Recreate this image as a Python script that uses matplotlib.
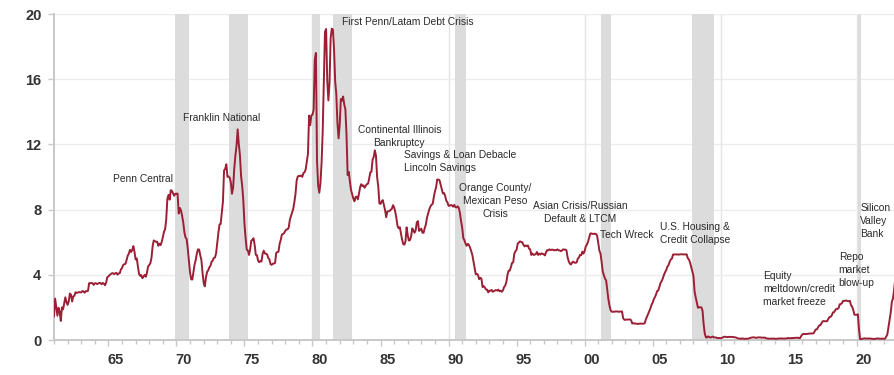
import numpy as np
import matplotlib
matplotlib.use("Agg")
import matplotlib.pyplot as plt
from matplotlib.transforms import ScaledTranslation

# Effective federal funds rate, monthly (%), starting Jan 1961
ff_1960s = [
    1.45, 2.54, 2.02, 1.49, 1.98, 1.73, 1.17, 2.00, 1.88, 2.26, 2.62, 2.33,
    2.15, 2.37, 2.85, 2.78, 2.36, 2.68, 2.71, 2.93, 2.90, 2.90, 2.94, 2.93,
    2.92, 3.00, 2.98, 2.90, 3.00, 2.99, 3.02, 3.49, 3.48, 3.50, 3.48, 3.38,
    3.48, 3.48, 3.43, 3.47, 3.50, 3.50, 3.42, 3.50, 3.45, 3.36, 3.52, 3.85,
    3.90, 3.98, 4.04, 4.09, 4.10, 4.04, 4.09, 4.12, 4.01, 4.08, 4.10, 4.32,
    4.42, 4.60, 4.65, 4.67, 4.90, 5.17, 5.30, 5.53, 5.40, 5.53, 5.76, 5.40,
    4.94, 5.00, 4.53, 4.05, 3.94, 3.98, 3.79, 3.90, 3.99, 3.88, 4.13, 4.51,
    4.60, 4.71, 5.05, 5.76, 6.11, 6.07, 6.02, 6.03, 5.78, 5.91, 5.82, 6.02,
    6.30, 6.64, 6.79, 7.41, 8.67, 8.90, 8.61, 9.19, 9.15, 9.00, 8.85, 8.97,
]
ff_1970s = [
    8.98, 8.98, 7.76, 8.10, 7.95, 7.61, 7.21, 6.61, 6.29, 6.20, 5.60, 4.90,
    4.14, 3.72, 3.71, 4.16, 4.63, 4.91, 5.31, 5.56, 5.55, 5.20, 4.91, 4.14,
    3.50, 3.29, 3.83, 4.17, 4.27, 4.46, 4.55, 4.80, 4.87, 5.04, 5.06, 5.33,
    5.94, 6.58, 7.09, 7.12, 7.84, 8.49, 10.40, 10.50, 10.78, 10.01, 10.03, 9.95,
    9.65, 8.97, 9.35, 10.51, 11.31, 11.93, 12.92, 12.01, 11.34, 10.06, 9.45, 8.53,
    7.13, 6.24, 5.54, 5.49, 5.22, 5.55, 6.10, 6.14, 6.24, 5.82, 5.22, 5.20,
    4.87, 4.77, 4.84, 4.82, 5.29, 5.48, 5.31, 5.29, 5.25, 5.03, 4.95, 4.65,
    4.61, 4.68, 4.69, 4.73, 5.35, 5.39, 5.42, 5.90, 6.14, 6.47, 6.51, 6.56,
    6.70, 6.78, 6.79, 6.89, 7.36, 7.60, 7.81, 8.04, 8.45, 8.96, 9.76, 10.03,
    10.07, 10.06, 10.09, 10.01, 10.24, 10.29, 10.47, 10.94, 11.43, 13.77, 13.18, 13.78,
]
ff_1980s = [
    13.82, 14.13, 17.19, 17.61, 10.98, 9.47, 9.03, 9.61, 10.87, 12.81, 15.85, 18.90,
    19.08, 15.93, 14.70, 15.72, 18.52, 19.10, 19.04, 17.82, 15.87, 15.08, 13.31, 12.37,
    13.22, 14.78, 14.68, 14.94, 14.45, 14.15, 12.59, 10.12, 10.31, 9.71, 9.20, 8.95,
    8.68, 8.51, 8.77, 8.80, 8.63, 8.98, 9.37, 9.56, 9.45, 9.48, 9.34, 9.47,
    9.56, 9.59, 9.91, 10.29, 10.32, 11.06, 11.23, 11.64, 11.30, 9.99, 9.43, 8.38,
    8.35, 8.50, 8.58, 8.27, 7.97, 7.53, 7.88, 7.90, 7.92, 7.99, 8.05, 8.27,
    8.14, 7.86, 7.48, 6.99, 6.85, 6.92, 6.56, 6.17, 5.89, 5.85, 6.04, 6.91,
    6.43, 6.10, 6.13, 6.37, 6.85, 6.73, 6.58, 6.73, 7.22, 7.29, 6.69, 6.77,
    6.83, 6.58, 6.58, 6.87, 7.09, 7.51, 7.75, 8.01, 8.19, 8.30, 8.35, 8.76,
    9.12, 9.36, 9.85, 9.84, 9.81, 9.53, 9.24, 8.99, 9.02, 8.84, 8.55, 8.45,
]
ff_1990s = [
    8.23, 8.24, 8.28, 8.26, 8.18, 8.29, 8.15, 8.13, 8.20, 8.11, 7.81, 7.31,
    6.91, 6.25, 6.12, 5.91, 5.78, 5.90, 5.82, 5.66, 5.45, 5.21, 4.81, 4.43,
    4.03, 4.06, 3.98, 3.73, 3.82, 3.76, 3.25, 3.30, 3.22, 3.10, 3.09, 2.92,
    3.02, 3.03, 3.07, 2.96, 3.00, 3.04, 3.06, 3.03, 3.09, 2.99, 3.02, 2.96,
    3.05, 3.25, 3.34, 3.56, 4.01, 4.25, 4.26, 4.47, 4.73, 4.76, 5.29, 5.45,
    5.53, 5.92, 5.98, 6.05, 6.01, 6.00, 5.85, 5.74, 5.80, 5.76, 5.80, 5.60,
    5.56, 5.22, 5.31, 5.22, 5.24, 5.27, 5.40, 5.22, 5.30, 5.24, 5.31, 5.29,
    5.25, 5.19, 5.39, 5.51, 5.50, 5.56, 5.52, 5.54, 5.54, 5.50, 5.52, 5.50,
    5.56, 5.51, 5.49, 5.45, 5.49, 5.56, 5.54, 5.55, 5.51, 5.07, 4.83, 4.68,
    4.63, 4.76, 4.81, 4.74, 4.74, 4.76, 4.99, 5.07, 5.22, 5.20, 5.42, 5.30,
]
ff_2000s = [
    5.45, 5.73, 5.85, 6.02, 6.27, 6.53, 6.54, 6.50, 6.52, 6.51, 6.51, 6.40,
    5.98, 5.49, 5.31, 4.80, 4.21, 3.97, 3.77, 3.65, 3.07, 2.49, 2.09, 1.82,
    1.73, 1.74, 1.73, 1.75, 1.75, 1.75, 1.73, 1.74, 1.75, 1.75, 1.34, 1.24,
    1.24, 1.26, 1.25, 1.26, 1.26, 1.22, 1.01, 1.03, 1.01, 1.01, 1.00, 0.98,
    1.00, 1.01, 1.00, 1.00, 1.00, 1.03, 1.26, 1.43, 1.61, 1.76, 1.93, 2.16,
    2.28, 2.50, 2.63, 2.79, 3.00, 3.04, 3.26, 3.50, 3.62, 3.78, 4.00, 4.16,
    4.29, 4.49, 4.59, 4.79, 4.94, 4.99, 5.24, 5.25, 5.25, 5.25, 5.25, 5.24,
    5.25, 5.26, 5.26, 5.25, 5.25, 5.25, 5.26, 5.02, 4.94, 4.76, 4.49, 4.24,
    3.94, 2.98, 2.61, 2.28, 1.98, 2.00, 2.01, 2.00, 1.81, 0.97, 0.39, 0.16,
    0.15, 0.22, 0.18, 0.15, 0.18, 0.21, 0.16, 0.16, 0.15, 0.12, 0.12, 0.12,
]
ff_2010s = [
    0.11, 0.13, 0.16, 0.20, 0.20, 0.18, 0.18, 0.19, 0.19, 0.19, 0.19, 0.18,
    0.17, 0.16, 0.14, 0.10, 0.09, 0.09, 0.07, 0.10, 0.08, 0.07, 0.08, 0.07,
    0.08, 0.10, 0.13, 0.14, 0.16, 0.16, 0.16, 0.13, 0.14, 0.16, 0.16, 0.16,
    0.14, 0.15, 0.14, 0.15, 0.11, 0.09, 0.09, 0.08, 0.08, 0.09, 0.08, 0.09,
    0.07, 0.07, 0.08, 0.09, 0.09, 0.10, 0.09, 0.09, 0.09, 0.09, 0.09, 0.12,
    0.11, 0.11, 0.11, 0.12, 0.12, 0.13, 0.13, 0.14, 0.14, 0.12, 0.12, 0.24,
    0.34, 0.38, 0.36, 0.37, 0.37, 0.38, 0.39, 0.40, 0.40, 0.40, 0.41, 0.54,
    0.65, 0.66, 0.79, 0.90, 0.91, 1.04, 1.15, 1.16, 1.15, 1.15, 1.16, 1.30,
    1.41, 1.42, 1.51, 1.69, 1.70, 1.82, 1.91, 1.91, 1.95, 2.19, 2.20, 2.27,
    2.40, 2.40, 2.41, 2.42, 2.39, 2.38, 2.40, 2.13, 2.04, 1.83, 1.55, 1.55,
]
ff_2020s = [
    1.55, 1.58, 0.65, 0.05, 0.05, 0.08, 0.09, 0.10, 0.09, 0.09, 0.09, 0.09,
    0.09, 0.08, 0.07, 0.07, 0.06, 0.08, 0.10, 0.09, 0.08, 0.08, 0.08, 0.08,
    0.08, 0.08, 0.20, 0.33, 0.77, 1.21, 1.68, 2.33, 2.56, 3.08, 3.78, 4.10,
    4.33, 4.57, 4.65, 4.83, 5.06, 5.08,
]
start_year = 1961

# Recession periods (start, end) in fractional years
recessions = [
    (1969.92, 1970.92), (1973.83, 1975.25), (1980.0, 1980.58),
    (1981.5, 1982.92), (1990.5, 1991.25), (2001.17, 2001.92),
    (2007.92, 2009.5), (2020.08, 2020.33),
]

# Annotations: (text, x-year, y-value, horizontal alignment)
annotations = [
    ("Penn Central", 1967.52, 9.88, "center"),
    ("Franklin National", 1973.35, 13.62, "center"),
    ("First Penn/Latam Debt Crisis", 1982.17, 19.51, "left"),
    ("Continental Illinois\nBankruptcy", 1986.38, 12.48, "center"),
    ("Savings & Loan Debacle\nLincoln Savings", 1986.70, 10.95, "left"),
    ("Orange County/\nMexican Peso\nCrisis", 1993.43, 8.53, "center"),
    ("Asian Crisis/Russian\nDefault & LTCM", 1999.65, 7.82, "center"),
    ("Tech Wreck", 2003.11, 6.44, "center"),
    ("U.S. Housing &\nCredit Collapse", 2005.57, 6.55, "left"),
    ("Equity\nmeltdown/credit\nmarket freeze", 2013.10, 3.11, "left"),
    ("Repo\nmarket\nblow-up", 2018.68, 4.29, "left"),
    ("Silicon\nValley\nBank", 2020.26, 7.32, "left"),
]

year_ticks = [1965, 1970, 1975, 1980, 1985, 1990, 1995, 2000, 2005, 2010, 2015, 2020]
year_labels = ["65", "70", "75", "80", "85", "90", "95", "00", "05", "10", "15", "20"]
y_ticks = [0, 4, 8, 12, 16, 20]
decade_lines = [1970, 1980, 1990, 2000, 2010, 2020]

plt.rcParams["font.family"] = ["Liberation Sans", "DejaVu Sans"]

rates = np.array(ff_1960s + ff_1970s + ff_1980s + ff_1990s + ff_2000s + ff_2010s + ff_2020s)
dates = start_year + np.arange(len(rates)) / 12.0

fig = plt.figure(figsize=(8.95, 3.75), dpi=100)
ax = fig.add_axes([54 / 895, 35 / 375, 851 / 895, 326 / 375])

ax.set_xlim(1961.0, 2023.55)
ax.set_ylim(0, 20)

for s, e in recessions:
    ax.axvspan(s, e, color="#dcdcdc", lw=0, zorder=1)
for d in decade_lines:
    ax.axvline(d, color="#e4e4e4", lw=1.0, zorder=0.5)
for yv in y_ticks[1:]:
    ax.axhline(yv, color="#ececec", lw=1.0, zorder=0.5)

ax.plot(dates, rates, color="#9b1f35", lw=1.4, zorder=3)

for txt, x, y, ha in annotations:
    ax.text(x, y, txt, ha=ha, va="center", fontsize=7.4, color="#2b2b2b",
            linespacing=1.38, zorder=4)

for side in ["top", "right"]:
    ax.spines[side].set_visible(False)
for side in ["left", "bottom"]:
    ax.spines[side].set_color("#c8c8c8")
    ax.spines[side].set_linewidth(1.4)

ax.set_yticks(y_ticks)
ax.set_yticklabels([str(v) for v in y_ticks])
ax.set_xticks(year_ticks)
ax.set_xticklabels(year_labels)
ax.set_xticks(np.arange(1961, 2024), minor=True)
ax.tick_params(axis="both", which="major", colors="#c8c8c8", labelcolor="#333333",
               labelsize=10.5, length=4, width=1)
ax.tick_params(axis="x", which="minor", colors="#c8c8c8", length=3, width=1)
ax.tick_params(axis="y", pad=5)
ax.tick_params(axis="x", pad=5)
for lab in ax.get_xticklabels() + ax.get_yticklabels():
    lab.set_fontweight("bold")
offset = ScaledTranslation(6.8 / 100, 0, fig.dpi_scale_trans)
for lab in ax.get_xticklabels():
    lab.set_transform(lab.get_transform() + offset)

fig.savefig("out.png", dpi=100)
